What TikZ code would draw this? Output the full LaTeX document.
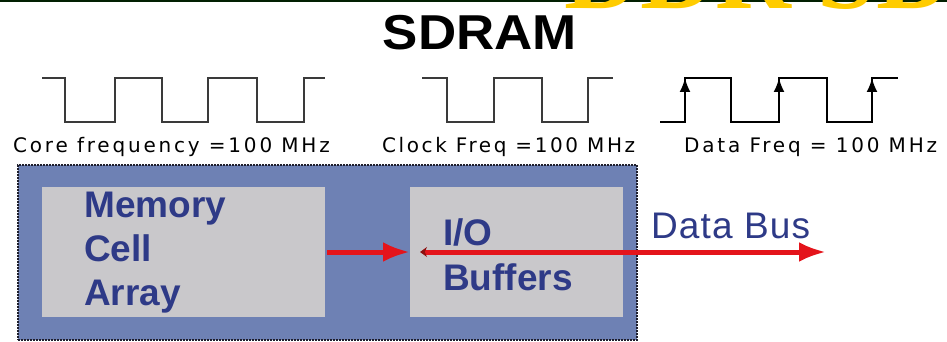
\documentclass[tikz,border=0pt]{standalone}
\usepackage{fontspec}
\setmainfont{Liberation Sans}
\newfontfamily\serifbold{Liberation Serif}
\newfontfamily\lblcore[LetterSpace=14]{DejaVu Sans}
\newfontfamily\lblclock[LetterSpace=13]{DejaVu Sans}
\newfontfamily\lbldata[LetterSpace=14]{DejaVu Sans}
\newfontfamily\busfont[LetterSpace=3]{Liberation Sans}
\usetikzlibrary{arrows.meta}
\definecolor{chipblue}{HTML}{6E81B4}
\definecolor{cellgray}{HTML}{C9C8CB}
\definecolor{textblue}{HTML}{2E3A87}
\definecolor{busred}{HTML}{E4141B}
\definecolor{darkred}{HTML}{8E1010}
\definecolor{topgreen}{HTML}{022002}
\definecolor{ddryellow}{HTML}{FFCC00}
\definecolor{wavegray}{HTML}{3A3A3A}
\definecolor{borderdark}{HTML}{1E1E2C}
\begin{document}
\begin{tikzpicture}[x=1pt,y=-1pt,
  wave/.style={line width=2.2pt,draw=wavegray,line join=miter},
  datawave/.style={line width=2pt,draw=black,line join=miter},
  freqlabel/.style={anchor=base west,inner sep=0pt,text=black},
  blocktext/.style={anchor=base west,inner sep=0pt,text=textblue,font=\bfseries\fontsize{37}{44}\selectfont},
  cellbox/.style={anchor=north west,fill=cellgray,draw=none,inner sep=0pt,outer sep=0pt},
  redarrow/.style={draw=busred,line width=5pt}
]
\useasboundingbox (0,0) rectangle (947,342);
\begin{scope}
\clip (0,0) rectangle (947,342);
\fill[white] (0,0) rectangle (947,342);
% top bar
\fill[topgreen] (0,0) rectangle (947,2.5);
% cut-off title
\node[anchor=base west,inner sep=0pt,text=ddryellow,font=\serifbold\bfseries\fontsize{105}{110}\selectfont] (ddr) at (564,9) {DDR SD};
\end{scope}

% heading
\node[anchor=base,inner sep=0pt,font=\bfseries\fontsize{49}{54}\selectfont] (sdram) at (480,49.5) {\scalebox{1.08}[1]{SDRAM}};

% waveforms
\draw[wave] (42,78) -- (65,78) -- (65,122) -- (115,122) -- (115,78) -- (162,78) -- (162,122) -- (208,122) -- (208,78) -- (257,78) -- (257,122) -- (304,122) -- (304,78) -- (325,78);
\draw[wave] (422,78) -- (447,78) -- (447,122) -- (494,122) -- (494,78) -- (542,78) -- (542,122) -- (588,122) -- (588,78) -- (613,78);
\draw[datawave] (660,122) -- (685,122) -- (685,78) -- (731,78) -- (731,122) -- (779,122) -- (779,78) -- (827,78) -- (827,122) -- (872,122) -- (872,78) -- (898,78);
\foreach \ex in {685,779,872}{
  \draw[-{Latex[length=14pt,width=11pt]},line width=2pt] (\ex,100) -- (\ex,78);
}

% frequency labels
\node[freqlabel,font=\lblcore\fontsize{20}{24}\selectfont] (corelbl) at (13,152) {Core frequency =100 MHz};
\node[freqlabel,font=\lblclock\fontsize{20}{24}\selectfont] (clocklbl) at (382,152) {Clock Freq =100 MHz};
\node[freqlabel,font=\lbldata\fontsize{20}{24}\selectfont] (datalbl) at (684,153) {Data Freq = 100 MHz};

% chip
\node[anchor=north west,fill=chipblue,draw=borderdark,line width=1.2pt,dash pattern=on 2pt off 1pt,minimum width=619pt,minimum height=175pt,inner sep=0pt,outer sep=0pt] (chip) at (18,165) {};
\node[cellbox,minimum width=283pt,minimum height=130pt] (mem) at (42,187) {};
\node[cellbox,minimum width=213pt,minimum height=130pt] (io) at (410,187) {};

\node[blocktext] (memA) at (84,217) {Memory};
\node[blocktext] (memB) at (84,261) {Cell};
\node[blocktext] (memC) at (84,305) {Array};
\node[blocktext] (ioA) at (443,245) {I/O};
\node[blocktext] (ioB) at (443,290) {Buffers};
\node[anchor=base west,inner sep=0pt,text=textblue,font=\busfont\fontsize{37}{44}\selectfont] (busl) at (651,238) {Data Bus};

% arrows
\coordinate (busend) at (826,252);
\draw[redarrow,-{Latex[length=27pt,width=20pt]}] ([xshift=2pt]mem.east) -- (io.west);
\draw[redarrow,{Stealth[length=7pt,width=10pt,color=darkred]}-{Latex[length=27pt,width=20pt]}] ([xshift=10pt]io.west) -- (busend);
\end{tikzpicture}
\end{document}
